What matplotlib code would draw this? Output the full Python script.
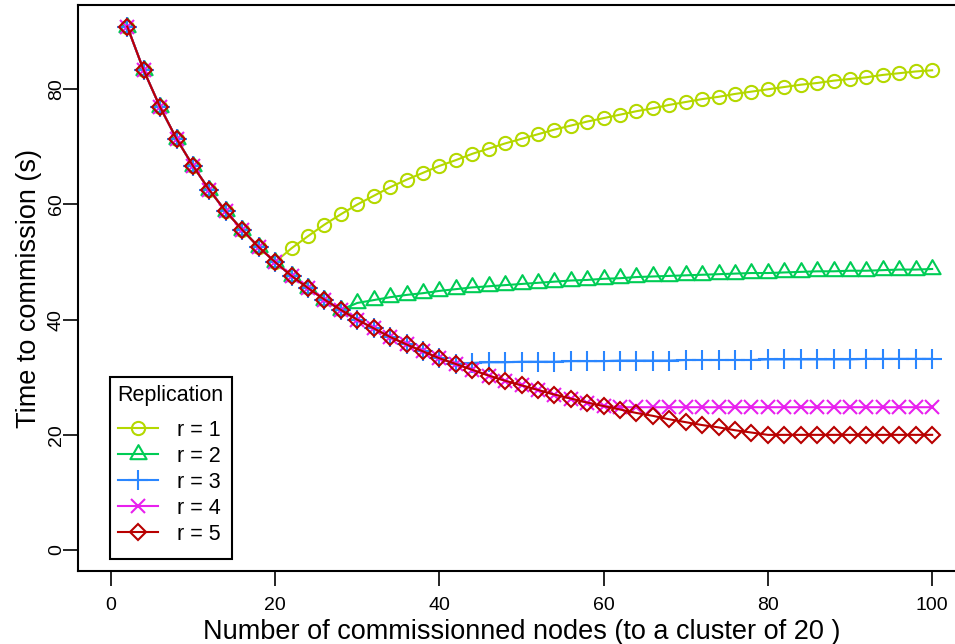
import matplotlib
matplotlib.use("Agg")
import matplotlib.pyplot as plt
from matplotlib.path import Path
from matplotlib.patches import Rectangle

plt.rcParams['font.family'] = ['Liberation Sans', 'DejaVu Sans']

# Number of commissioned nodes (x axis)
nodes = [2, 4, 6, 8, 10, 12, 14, 16, 18, 20, 22, 24, 26, 28, 30, 32, 34, 36, 38, 40,
         42, 44, 46, 48, 50, 52, 54, 56, 58, 60, 62, 64, 66, 68, 70, 72, 74, 76, 78, 80,
         82, 84, 86, 88, 90, 92, 94, 96, 98, 100]

# Shared falling part of the curves (x = 2 .. 78), identical for all replication levels
decline = [90.9, 83.3, 76.9, 71.4, 66.7, 62.5, 58.8, 55.6, 52.6, 50.0,
           47.6, 45.5, 43.5, 41.7, 40.0, 38.5, 37.0, 35.7, 34.5, 33.3,
           32.3, 31.3, 30.3, 29.4, 28.6, 27.8, 27.0, 26.3, 25.6, 25.0,
           24.4, 23.8, 23.3, 22.7, 22.2, 21.7, 21.3, 20.8, 20.4]

# Where each replication level leaves the shared curve
tail_r1 = [52.4, 54.5, 56.5, 58.3, 60.0, 61.5, 63.0, 64.3, 65.5, 66.7,
           67.7, 68.8, 69.7, 70.6, 71.4, 72.2, 73.0, 73.7, 74.4, 75.0,
           75.6, 76.2, 76.7, 77.3, 77.8, 78.3, 78.7, 79.2, 79.6, 80.0,
           80.4, 80.8, 81.1, 81.5, 81.8, 82.1, 82.5, 82.8, 83.1, 83.3]
tail_r2 = [42.9, 43.4, 43.9, 44.3, 44.6, 45.0, 45.3, 45.6, 45.8, 46.0,
           46.2, 46.4, 46.6, 46.8, 46.9, 47.1, 47.2, 47.4, 47.5, 47.6,
           47.7, 47.8, 47.9, 48.0, 48.1, 48.1, 48.2, 48.3, 48.4, 48.4,
           48.5, 48.5, 48.6, 48.7, 48.7, 48.8]
tail_r3 = [32.5, 32.6, 32.6, 32.7, 32.7, 32.7, 32.8, 32.8, 32.8, 32.9,
           32.9, 32.9, 32.9, 33.0, 33.0, 33.0, 33.0, 33.0, 33.1, 33.1,
           33.1, 33.1, 33.1, 33.1, 33.2, 33.2, 33.2, 33.2, 33.2]
tail_r4 = [24.8, 24.8, 24.8, 24.8, 24.8, 24.8, 24.8, 24.8, 24.8, 24.8,
           24.8, 24.8, 24.8, 24.8, 24.8, 24.8, 24.8, 24.8, 24.8, 24.8]
tail_r5 = [20.0, 20.0, 20.0, 20.0, 20.0, 20.0, 20.0, 20.0, 20.0, 20.0, 20.0]

r1 = decline[:10] + tail_r1
r2 = decline[:14] + tail_r2
r3 = decline[:21] + tail_r3
r4 = decline[:30] + tail_r4
r5 = decline[:39] + tail_r5

labels = ['r = 1', 'r = 2', 'r = 3', 'r = 4', 'r = 5']
colors = ['#B4D800', '#00CC55', '#2A86FF', '#E820EE', '#B80000']

# triangle centred on its centroid (like R's pch 2)
tri = Path([(0, 1), (-0.866, -0.5), (0.866, -0.5), (0, 1)],
           [Path.MOVETO, Path.LINETO, Path.LINETO, Path.CLOSEPOLY])
markers = ['o', tri, '+', 'x', 'D']
msizes = [9.5, 13.5, 14, 10, 8.5]

W, H = 955, 644
fig = plt.figure(figsize=(W / 100, H / 100), dpi=100)
ax = fig.add_axes([78 / W, 73 / H, 887 / W, 566 / H])

for y, lab, c, m, ms in zip([r1, r2, r3, r4, r5], labels, colors, markers, msizes):
    ax.plot(nodes, y, color=c, lw=1.5, marker=m, ms=ms, mew=1.5,
            mfc='none', mec=c, label=lab)

ax.set_xlim(-4, 104)
ax.set_ylim(-3.64, 94.64)
ax.set_xticks([0, 20, 40, 60, 80, 100])
ax.set_yticks([0, 20, 40, 60, 80])
for s in ax.spines.values():
    s.set_linewidth(1.5)
ax.tick_params(direction='out', length=10.5, width=1.2, labelsize=14)
ax.tick_params(axis='x', pad=8)
ax.tick_params(axis='y', pad=-1)
for t in ax.get_yticklabels():
    t.set_rotation(90)
    t.set_va('center')

ax.set_xlabel('Number of commissionned nodes (to a cluster of 20 )', fontsize=19.5, labelpad=3.5)
ax.set_ylabel('Time to commission (s)', fontsize=19.5, labelpad=4.5)

# legend box (R-style: more room under the last entry)
ax.add_patch(Rectangle((110 / W, 1 - 559 / H), 122 / W, 182 / H,
                       transform=fig.transFigure, facecolor='white',
                       edgecolor='black', lw=1.5, zorder=4, clip_on=False))
leg = ax.legend(title='Replication', loc='upper left',
                bbox_to_anchor=(110 / W, 1 - 377 / H), bbox_transform=fig.transFigure,
                borderaxespad=0, fontsize=15.5, title_fontsize=15.5, alignment='left',
                frameon=False, handlelength=1.9, handletextpad=0.85,
                labelspacing=0.233, borderpad=0.35)
leg.set_zorder(5)
# extra room between the title and the entries
leg._legend_box.sep = 10.1

fig.savefig('out.png', dpi=100)
